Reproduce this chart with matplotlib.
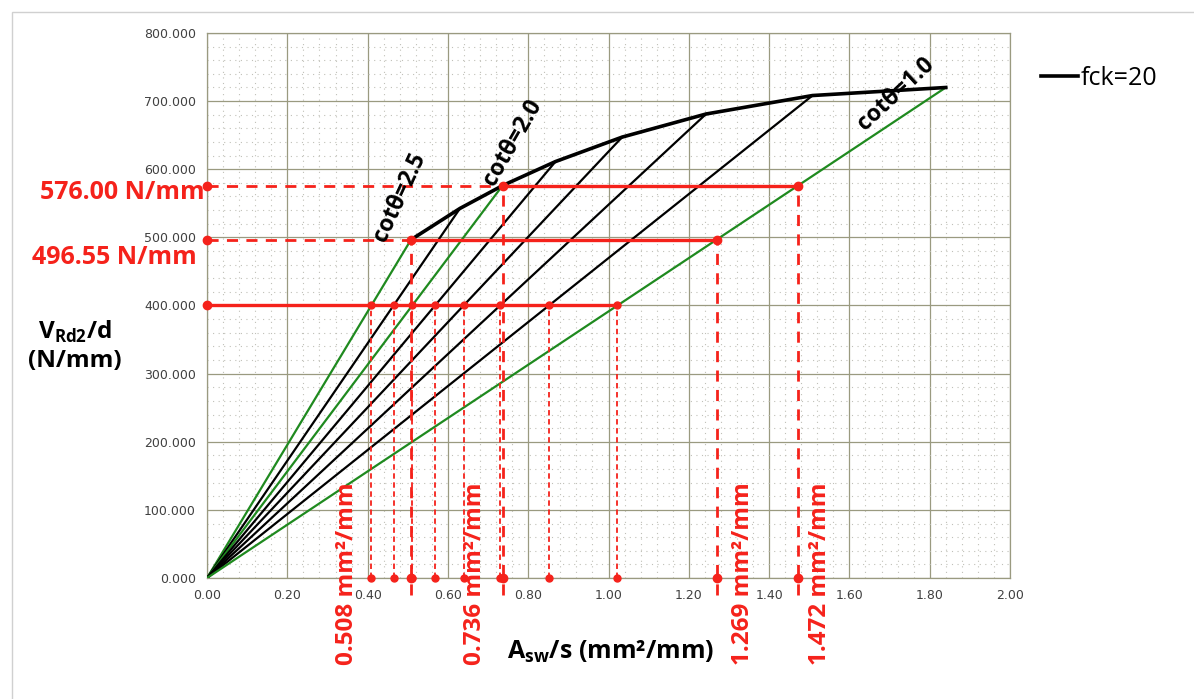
import matplotlib.pyplot as plt
from matplotlib.patches import Rectangle
from matplotlib.ticker import MultipleLocator, FormatStrFormatter

plt.rcParams['mathtext.fontset'] = 'custom'
plt.rcParams['mathtext.rm'] = 'Open Sans'
plt.rcParams['mathtext.bf'] = 'Open Sans:bold'

# cot(theta) lines and where each one meets the VRd,max envelope
cot_theta = [2.5, 2.2, 2.0, 1.8, 1.6, 1.4, 1.2, 1.0]
env_x = [0.508, 0.630, 0.736, 0.868, 1.034, 1.243, 1.508, 1.840]
env_v = [496.55, 542.5, 576.0, 611.3, 647.2, 681.1, 708.2, 720.0]
green_cot = [2.5, 2.0, 1.0]

# design level V = 400 N/mm and crossings with each line
v_design = 400.0
x_at_400 = [0.409, 0.465, 0.511, 0.568, 0.639, 0.730, 0.852, 1.022]

# highlighted cases: (V, x at cot=2.5/2.0, x at cot=1.0)
v_marks = [496.55, 576.00]
x_left = [0.508, 0.736]
x_right = [1.269, 1.472]
v_labels = ['496.55 N/mm', '576.00 N/mm']
x_labels = ['0.508 mm²/mm', '0.736 mm²/mm', '1.269 mm²/mm', '1.472 mm²/mm']

RED = '#f5221b'
GREEN = '#1f8a1f'

fig = plt.figure(figsize=(11.94, 6.99), dpi=100)
ax = fig.add_axes([0.1734, 0.1731, 0.6725, 0.7797])

# lines from origin
for c, x, v in zip(cot_theta, env_x, env_v):
    col = GREEN if c in green_cot else 'black'
    ax.plot([0, x], [0, v], color=col, lw=1.6, zorder=3)

# envelope
ax.plot(env_x, env_v, color='black', lw=2.6, zorder=4, label='fck=20')

# V = 400 line
ax.plot([0, x_at_400[-1]], [v_design, v_design], color=RED, lw=2.4, zorder=5)
ax.plot([0], [v_design], 'o', color=RED, ms=6, zorder=6, clip_on=False)
for x in x_at_400:
    ax.plot([x, x], [0, v_design], color=RED, lw=1.3, ls=(0, (3, 2)), zorder=5)
    ax.plot([x, x], [0, v_design], 'o', color=RED, ms=5, zorder=6, clip_on=False)

# highlighted levels
for v, xl, xr in zip(v_marks, x_left, x_right):
    ax.plot([0, xl], [v, v], color=RED, lw=2.0, ls=(0, (4, 3)), zorder=5)
    ax.plot([xl, xr], [v, v], color=RED, lw=2.4, zorder=5)
    ax.plot([0, xl, xr], [v, v, v], 'o', color=RED, ms=6, zorder=6, clip_on=False)
    for x in (xl, xr):
        ax.plot([x, x], [-25, v], color=RED, lw=2.0, ls=(0, (4, 3)), zorder=5, clip_on=False)
        ax.plot([x], [0], 'o', color=RED, ms=6, zorder=6, clip_on=False)

ax.set_xlim(0, 2.0)
ax.set_ylim(0, 800)
ax.xaxis.set_major_locator(MultipleLocator(0.2))
ax.xaxis.set_minor_locator(MultipleLocator(0.04))
ax.yaxis.set_major_locator(MultipleLocator(100))
ax.yaxis.set_minor_locator(MultipleLocator(20))
ax.xaxis.set_major_formatter(FormatStrFormatter('%.2f'))
ax.yaxis.set_major_formatter(FormatStrFormatter('%.3f'))
ax.grid(which='major', color='#9a9a80', lw=0.9)
ax.grid(which='minor', color='#c0c0b8', lw=0.8, ls=(0, (1, 4)))
ax.tick_params(which='both', length=0, labelsize=9, colors='#404040', pad=8)
for s in ax.spines.values():
    s.set_color('#9a9a80')
    s.set_linewidth(0.9)
ax.set_axisbelow(True)

# cot labels
lab_font = dict(family=['Open Sans', 'DejaVu Sans'], fontweight='bold', fontsize=16.5,
                ha='center', va='center', zorder=7)
ax.text(0.481, 559, 'cotθ=2.5', rotation=65, **lab_font)
ax.text(0.762, 639, 'cotθ=2.0', rotation=60, **lab_font)
ax.text(1.715, 710, 'cotθ=1.0', rotation=43, **lab_font)

# red value labels
red_font = dict(family=['Open Sans', 'DejaVu Sans'], fontweight='bold', fontsize=18, color=RED)
ax.text(-0.005, 566, v_labels[1], ha='right', va='center', clip_on=False, **red_font)
ax.text(-0.025, 470, v_labels[0], ha='right', va='center', clip_on=False, **red_font)
for x, t in zip([0.349, 0.667, 1.335, 1.527], x_labels):
    ax.text(x, -128, t, rotation=90, ha='center', va='bottom', clip_on=False,
            **{**red_font, 'fontsize': 17.5})

# axis titles
fig.text(0.063, 0.505, 'V$_{\\mathbf{Rd2}}$/d\n(N/mm)', ha='center', va='center',
         fontsize=17.5, fontweight='bold', family='Open Sans', linespacing=1.2)
fig.text(0.511, 0.067, 'A$_{\\mathbf{sw}}$/s (mm²/mm)', ha='center', va='center',
         fontsize=18, fontweight='bold', family='Open Sans')

leg = ax.legend(loc='center left', bbox_to_anchor=(0.853, 0.888), bbox_transform=fig.transFigure,
                frameon=False, handlelength=1.5, handletextpad=0.1,
                prop={'family': 'Open Sans', 'size': 18})

# chart frame
fig.patches.append(Rectangle((12 / 1194, -0.05), 1.1, 1 - 12 / 699 + 0.05,
                             transform=fig.transFigure, fill=False, ec='#d0d0d0', lw=1.0))

fig.savefig('out.png', dpi=100)
